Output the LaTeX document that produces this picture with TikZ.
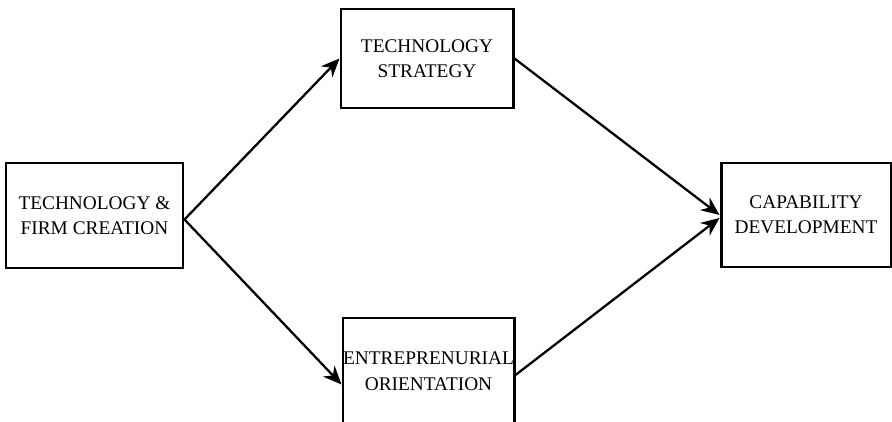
\documentclass[tikz,border=0pt]{standalone}
\usepackage{fontspec}
\setmainfont{Liberation Serif}
\usetikzlibrary{arrows.meta}

\begin{document}
\begin{tikzpicture}[x=1cm,y=1cm,
    box/.style={draw,line width=1.7pt,align=center,inner sep=0pt,
      font=\fontsize{11}{14.5}\selectfont},
    link/.style={line width=1.3pt,-{Stealth[length=10.5pt,width=9pt]}}]
  \useasboundingbox (0,0) rectangle (17.84,8.42);
  \node[box,minimum width=3.54cm,minimum height=2.10cm] (tfc) at (1.89,4.11) {TECHNOLOGY \&\\FIRM CREATION};
  \node[box,minimum width=3.44cm,minimum height=1.98cm] (ts) at (8.54,7.25) {TECHNOLOGY\\STRATEGY};
  \node[box,minimum width=3.42cm,minimum height=2.12cm] (eo) at (8.57,1.00) {ENTREPRENURIAL\\ORIENTATION};
  \node[box,minimum width=3.40cm,minimum height=2.08cm] (cd) at (16.12,4.12) {CAPABILITY\\DEVELOPMENT};
  % paths into and out of the two middle boxes
  \draw[link] ([yshift=-0.08cm]tfc.east) -- (ts.west);
  \draw[link] ([yshift=-0.08cm]tfc.east) -- ([yshift=-0.27cm]eo.west);
  \draw[link] (ts.east) -- (cd.west);
  \draw[link] ([yshift=-0.08cm]eo.east) -- ([yshift=-0.06cm]cd.west);
\end{tikzpicture}
\end{document}
